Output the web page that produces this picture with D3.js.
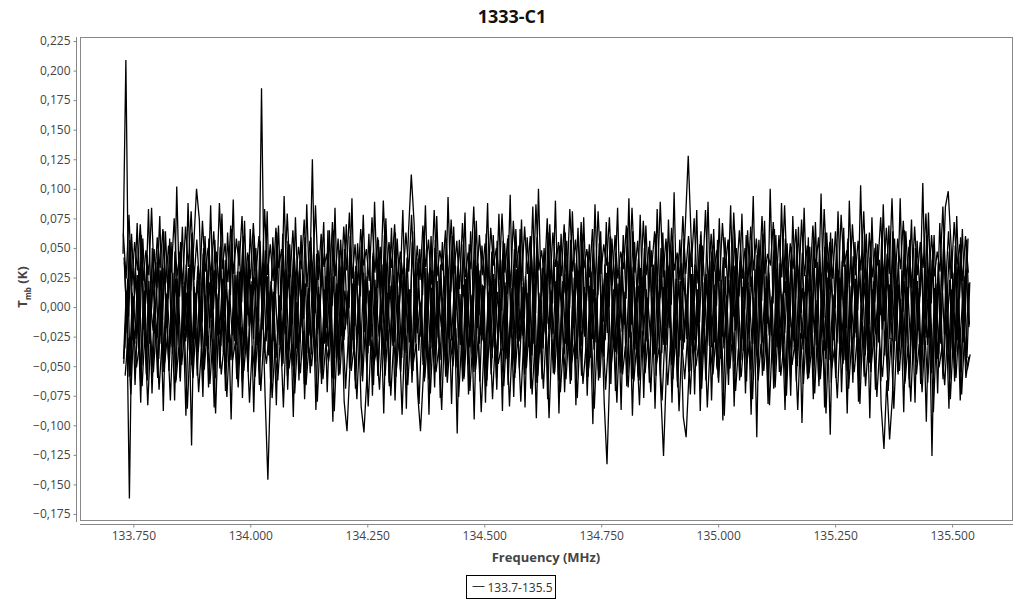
<!DOCTYPE html>
<html>
<head>
<meta charset="utf-8">
<script src="https://cdn.jsdelivr.net/npm/d3@7"></script>
<style>
  body { margin: 0; background: #fff; }
  svg { font-family: "Open Sans", sans-serif; }
</style>
</head>
<body>
<svg id="chart"></svg>
<script>
// spectrum 1333-C1, eight scans, values in mK
// each scan has its own (slightly shifted) channel grid, [first, last] in MHz
var scanRanges = [
  [133.7280, 135.5340],
  [133.7295, 135.5355],
  [133.7310, 135.5370],
  [133.7318, 135.5378],
  [133.7286, 135.5346],
  [133.7325, 135.5385],
  [133.7302, 135.5362],
  [133.7290, 135.5350]
];

var scanA = [
  45, 209, -8, 62, 12, 71, -15, 58, 3, 83, -4, 49, 16, 77, -11, 64, 7, 55, -19, 102,
  9, 68, -6, 88, 14, 52, 100, 74, -13, 60, 5, 86, -2, 47, 18, 79, -9, 63, 10, 91,
  -17, 56, 4, 73, -7, 66, 15, 50, -12, 185, 2, 81, -21, 59, 11, 69, -3, 94, 8, 53,
  -14, 76, 6, 61, -10, 87, 13, 125, -5, 48, 17, 72, -18, 65, 1, 84, -8, 57, 12, 70,
  -1, 92, -16, 54, 9, 78, 3, 62, -12, 89, 16, 51, -6, 75, 7, 67, -20, 58, 14, 82,
  -4, 63, 112, 71, -11, 49, 10, 86, 2, 60, -15, 77, 5, 55, -9, 93, 13, 68, -2, 57,
  8, 80, -17, 64, 4, 73, -7, 52, 15, 88, -13, 61, 6, 79, -3, 54, 11, 95, -19, 66,
  1, 74, -10, 59, 17, 85, -5, 100, 9, 50, -14, 70, 3, 90, -8, 62, 12, 56, -1, 81,
  14, 67, -18, 76, 5, 53, -6, 87, 10, 64, -12, 72, 0, 58, 16, 84, -9, 61, 7, 92,
  -15, 55, 4, 78, -3, 69, 13, 48, -11, 83, 8, 63, -16, 74, 2, 97, -7, 57, 15, 71,
  128, 60, 6, 82, -13, 52, 11, 89, -4, 66, 1, 75, -20, 59, 14, 86, -8, 50, 9, 79,
  -2, 65, 17, 94, -10, 57, 5, 73, -14, 100, 3, 61, -6, 88, 12, 54, -17, 77, 7, 68,
  -5, 84, 10, 51, -12, 72, 2, 96, -9, 63, 15, 58, -1, 81, 6, 67, -18, 90, 11, 55,
  -3, 103, 8, 62, -15, 76, 4, 53, -7, 87, 13, 69, -11, 58, 1, 92, -4, 64, 16, 74,
  -13, 56, 9, 105, -6, 80, 3, 61, -10, 71, 14, 85, 98, 52, -2, 77, 7, 66, -8, 58
];
var scanB = [
  -48, 6, -162, 12, -66, -4, -81, 9, -57, 15, -73, -8, -60, 3, -88, 11, -54, -2, -79, 14,
  -63, -6, -92, 8, -117, 17, -58, -1, -76, 10, -68, -11, -85, 5, -52, 13, -71, -5, -95, 2,
  -61, 16, -77, -9, -55, 7, -89, 0, -66, 12, -74, -146, -59, -3, -83, 10, -50, 18, -70, -7,
  -93, 4, -62, 14, -78, -10, -56, 8, -87, 1, -65, 15, -72, -4, -97, 11, -58, 6, -80, -105,
  -53, 13, -69, -5, -84, -106, -61, 9, -75, 17, -58, -2, -90, 6, -67, 12, -79, -8, -55, 4,
  -86, 15, -64, -3, -73, -105, -59, 10, -91, 1, -68, 14, -77, -6, -54, 8, -82, -1, -107, 11,
  -60, 16, -74, -5, -95, 7, -63, 2, -81, 13, -57, -9, -70, 5, -88, 18, -66, -3, -76, 9,
  -52, 0, -85, 12, -69, -7, -94, 6, -61, 15, -78, -2, -56, 10, -90, 3, -72, -10, -65, 14,
  -83, 4, -58, 17, -75, -4, -99, 8, -62, 1, -80, -133, -54, 11, -71, -6, -87, 13, -67, 5,
  -92, -8, -59, 16, -77, 2, -64, 9, -86, -1, -70, -126, -55, 12, -81, 4, -68, -5, -93, -110,
  -57, 10, -74, 15, -88, -3, -62, 7, -79, 0, -53, 13, -96, -7, -66, 11, -84, 3, -60, 17,
  -73, -2, -91, 8, -110, 14, -58, -6, -82, 5, -69, 12, -55, -9, -87, 1, -75, 16, -63, 4,
  -98, -4, -61, 10, -78, 2, -67, 15, -85, -7, -108, 9, -56, 18, -72, -1, -90, 6, -64, 13,
  -80, -5, -59, 11, -94, 3, -70, 14, -83, -120, -62, -112, -76, 8, -57, -3, -89, 12, -68, 0,
  -81, 16, -65, -6, -97, 9, -126, 4, -73, 12, -58, -8, -86, 15, -63, 2, -79, -4, -60, -42
];
var scanC = [
  38, -22, 55, -9, 27, -35, 61, -14, 44, -28, 19, -6, 52, -31, 33, -18, 58, -40, 24, -11,
  47, -26, 12, -37, 63, -8, 35, -20, 50, -33, 21, -13, 57, -24, 41, -38, 15, -5, 54, -29,
  30, -16, 60, -36, 43, -10, 25, -27, 56, -19, 36, -41, 17, -7, 49, -32, 62, -15, 28, -23,
  53, -34, 39, -12, 20, -39, 59, -21, 45, -8, 31, -30, 65, -17, 26, -43, 48, -25, 14, -10,
  51, -36, 34, -19, 58, -6, 22, -28, 46, -41, 37, -14, 61, -24, 18, -33, 55, -11, 29, -37,
  42, -20, 64, -30, 16, -9, 50, -38, 33, -15, 57, -26, 24, -42, 44, -7, 60, -22, 35, -31,
  19, -13, 53, -40, 40, -18, 27, -29, 62, -10, 47, -35, 13, -21, 56, -44, 32, -8, 49, -27,
  66, -16, 23, -34, 44, -12, 59, -39, 30, -23, 52, -6, 38, -30, 21, -17, 63, -37, 41, -14,
  28, -25, 57, -9, 47, -43, 15, -19, 54, -32, 36, -11, 60, -28, 25, -40, 45, -15, 67, -21,
  34, -36, 18, -7, 50, -24, 39, -41, 62, -13, 27, -31, 55, -18, 43, -35, 20, -10, 58, -27,
  46, -39, 31, -16, 64, -22, 23, -33, 52, -8, 40, -44, 17, -20, 57, -29, 35, -12, 48, -37,
  61, -19, 26, -30, 44, -5, 55, -38, 29, -24, 66, -14, 37, -42, 22, -17, 51, -34, 42, -9,
  16, -27, 59, -40, 33, -13, 48, -21, 63, -35, 24, -10, 53, -31, 39, -45, 58, -18, 30, -26,
  45, -11, 21, -37, 56, -23, 36, -16, 61, -41, 28, -8, 50, -29, 19, -34, 65, -14, 43, -39,
  32, -20, 54, -32, 26, -6, 47, -43, 38, -18, 60, -25, 23, -36, 52, -12, 41, -30, 57, -15
];
var scanD = [
  -35, 24, -58, 9, -27, 33, -49, 14, -62, 6, -20, 38, -44, 17, -55, 11, -31, 29, -64, 7,
  -41, 21, -26, 36, -57, 12, -38, 5, -51, 31, -18, 19, -60, 8, -33, 40, -47, 15, -24, 27,
  -59, 10, -36, 34, -16, 22, -53, 6, -42, 37, -29, 13, -63, 25, -21, 9, -48, 32, -37, 18,
  -56, 4, -30, 28, -65, 16, -40, 35, -23, 11, -52, 26, -34, 7, -61, 20, -45, 39, -19, 14,
  -50, 30, -28, 8, -58, 23, -39, 17, -66, 5, -25, 36, -46, 12, -32, 27, -59, 10, -43, 33,
  -22, 15, -54, 38, -37, 6, -63, 21, -30, 31, -48, 9, -17, 26, -57, 13, -40, 35, -26, 4,
  -61, 29, -34, 11, -50, 37, -24, 18, -67, 8, -43, 24, -29, 40, -55, 5, -38, 16, -60, 32,
  -27, 10, -52, 34, -41, 20, -64, 7, -35, 28, -19, 14, -57, 39, -46, 22, -31, 6, -62, 25,
  -44, 35, -23, 12, -59, 30, -36, 4, -53, 19, -28, 38, -65, 15, -40, 27, -21, 9, -56, 33,
  -33, 17, -62, 26, -47, 8, -25, 36, -58, 13, -39, 31, -18, 6, -61, 24, -42, 37, -30, 11,
  -54, 28, -37, 5, -66, 21, -29, 39, -49, 14, -60, 23, -35, 10, -52, 34, -20, 16, -45, 30,
  -63, 7, -31, 32, -56, 18, -42, 26, -24, 9, -59, 37, -38, 13, -67, 20, -27, 35, -50, 4,
  -36, 27, -60, 15, -22, 38, -53, 8, -44, 30, -64, 11, -30, 25, -48, 36, -57, 6, -26, 19,
  -62, 33, -41, 10, -55, 22, -34, 40, -19, 14, -58, 28, -45, 5, -37, 31, -65, 17, -28, 24,
  -47, 12, -59, 36, -32, 8, -52, 20, -40, 34, -23, 16, -61, 29, -38, 9, -55, 26, -43, 21
];
var scanE = [
  62, 24, 78, 18, 55, 31, 70, 22, 48, 27, 84, 16, 59, 33, 66, 20, 52, 29, 75, 25,
  47, 19, 68, 34, 81, 23, 57, 17, 73, 30, 50, 26, 64, 15, 88, 32, 54, 21, 69, 28,
  58, 35, 77, 18, 46, 24, 71, 30, 60, 16, 83, 27, 53, 22, 67, 33, 49, 19, 79, 25,
  65, 21, 51, 32, 74, 17, 56, 28, 86, 23, 62, 34, 45, 20, 72, 26, 58, 15, 68, 31,
  80, 24, 53, 18, 66, 35, 49, 22, 76, 29, 59, 16, 90, 27, 55, 33, 70, 20, 47, 25,
  63, 30, 78, 17, 52, 23, 69, 34, 57, 19, 82, 26, 48, 31, 65, 21, 74, 28, 56, 15,
  71, 25, 46, 32, 85, 20, 61, 27, 54, 18, 67, 35, 50, 23, 79, 29, 58, 16, 73, 33,
  52, 22, 68, 28, 60, 15, 87, 31, 48, 24, 75, 19, 63, 34, 55, 26, 70, 21, 83, 30,
  57, 17, 72, 33, 49, 25, 66, 20, 81, 28, 53, 35, 76, 18, 61, 24, 47, 32, 69, 22,
  84, 29, 56, 16, 73, 27, 51, 34, 64, 21, 89, 25, 58, 19, 67, 31, 46, 23, 77, 28,
  60, 34, 75, 20, 53, 26, 82, 17, 62, 30, 48, 22, 71, 33, 57, 15, 80, 27, 65, 24,
  50, 19, 68, 31, 58, 23, 77, 28, 45, 35, 72, 16, 61, 25, 86, 21, 54, 32, 66, 18,
  74, 26, 52, 22, 69, 33, 59, 15, 83, 29, 55, 24, 64, 18, 78, 34, 48, 20, 70, 27,
  56, 31, 81, 17, 63, 25, 50, 35, 76, 21, 67, 28, 92, 19, 58, 32, 73, 23, 51, 16,
  68, 27, 55, 33, 79, 20, 61, 26, 47, 30, 85, 18, 64, 24, 72, 35, 53, 22, 60, 29
];
var scanF = [
  -58, -26, -74, -19, -51, -33, -67, -21, -83, -28, -55, -17, -70, -31, -47, -24, -79, -15, -62, -34,
  -49, -22, -86, -29, -60, -18, -72, -35, -53, -20, -65, -27, -90, -16, -57, -32, -76, -23, -45, -30,
  -68, -17, -54, -25, -81, -33, -59, -21, -71, -28, -48, -19, -77, -35, -62, -24, -85, -16, -52, -31,
  -73, -27, -56, -20, -66, -34, -50, -18, -80, -26, -61, -32, -46, -22, -88, -29, -57, -15, -69, -25,
  -54, -33, -78, -21, -63, -17, -84, -28, -49, -35, -70, -23, -58, -19, -75, -30, -52, -26, -91, -18,
  -66, -24, -47, -31, -82, -16, -60, -29, -73, -22, -55, -34, -87, -20, -64, -27, -50, -18, -76, -32,
  -59, -15, -71, -28, -53, -25, -89, -33, -62, -19, -78, -26, -48, -35, -67, -21, -84, -30, -56, -23,
  -80, -29, -51, -17, -74, -32, -58, -24, -69, -20, -94, -27, -55, -16, -72, -34, -61, -22, -47, -31,
  -77, -19, -65, -35, -52, -23, -86, -28, -60, -15, -70, -30, -49, -26, -81, -18, -57, -33, -68, -21,
  -63, -32, -83, -20, -56, -27, -72, -16, -48, -34, -79, -24, -66, -29, -53, -19, -88, -31, -61, -25,
  -74, -22, -50, -30, -69, -18, -85, -33, -57, -26, -64, -15, -92, -28, -52, -21, -71, -35, -59, -24,
  -47, -29, -78, -17, -62, -31, -54, -23, -83, -27, -68, -20, -58, -34, -75, -16, -49, -30, -87, -22,
  -65, -25, -56, -33, -73, -19, -61, -28, -90, -21, -52, -35, -77, -24, -48, -18, -69, -32, -55, -27,
  -82, -16, -67, -30, -50, -23, -76, -34, -59, -20, -71, -26, -86, -29, -54, -17, -63, -33, -80, -21,
  -57, -31, -72, -24, -64, -19, -89, -27, -51, -35, -66, -22, -78, -28, -60, -16, -74, -25, -53, -40
];
var scanG = [
  42, -12, 57, -28, 33, -5, 61, -19, 25, -31, 50, -8, 38, -24, 64, -15, 29, -34, 47, -3,
  55, -21, 36, -10, 62, -27, 23, -16, 45, -33, 58, -7, 31, -22, 51, -13, 40, -30, 66, -18,
  27, -4, 53, -25, 44, -14, 60, -32, 34, -9, 48, -20, 22, -29, 63, -11, 39, -23, 56, -6,
  46, -35, 30, -17, 59, -2, 41, -26, 24, -12, 54, -31, 37, -19, 65, -8, 28, -24, 49, -15,
  60, -28, 35, -6, 52, -21, 26, -33, 43, -10, 57, -17, 32, -29, 48, -4, 63, -22, 38, -13,
  23, -30, 55, -11, 41, -25, 62, -18, 29, -35, 50, -7, 36, -20, 58, -27, 44, -9, 27, -32,
  53, -16, 39, -23, 64, -5, 31, -28, 47, -14, 22, -34, 56, -10, 42, -19, 61, -26, 35, -3,
  49, -24, 26, -12, 58, -31, 45, -8, 33, -21, 63, -15, 40, -27, 52, -6, 28, -33, 57, -18,
  37, -9, 62, -25, 30, -14, 54, -30, 43, -4, 24, -22, 59, -17, 46, -35, 34, -11, 51, -26,
  64, -20, 41, -7, 27, -29, 56, -13, 38, -24, 50, -32, 32, -5, 60, -19, 45, -28, 25, -10,
  52, -33, 36, -16, 61, -22, 28, -9, 47, -30, 57, -12, 42, -25, 23, -18, 65, -6, 39, -27,
  30, -14, 55, -31, 44, -3, 62, -23, 35, -17, 48, -34, 26, -11, 58, -21, 40, -29, 53, -8,
  46, -26, 24, -13, 59, -32, 33, -7, 51, -20, 63, -28, 37, -15, 29, -35, 55, -10, 43, -22,
  27, -5, 60, -24, 42, -18, 54, -30, 31, -12, 45, -27, 64, -9, 38, -23, 22, -16, 57, -33,
  50, -19, 34, -8, 61, -26, 40, -14, 25, -31, 56, -4, 47, -21, 36, -28, 59, -12, 32, -17
];
var scanH = [
  -44, 14, -59, 3, -31, 27, -62, 9, -38, 22, -51, 1, -26, 31, -55, 12, -47, 6, -34, 25,
  -60, 18, -29, 33, -49, 7, -41, 21, -64, 2, -36, 29, -53, 11, -23, 24, -57, 5, -45, 16,
  -32, 30, -63, 8, -48, 19, -27, 35, -54, 4, -39, 26, -61, 13, -43, 0, -30, 23, -58, 10,
  -50, 28, -37, 15, -65, 6, -24, 32, -46, 17, -56, 3, -33, 25, -60, 12, -42, 34, -28, 7,
  -52, 20, -62, 1, -35, 29, -47, 14, -25, 23, -58, 9, -40, 31, -64, 5, -30, 18, -53, 26,
  -39, 11, -56, 27, -22, 4, -49, 33, -61, 16, -34, 22, -45, 8, -59, 30, -28, 13, -51, 2,
  -63, 24, -41, 10, -55, 35, -31, 19, -48, 6, -26, 28, -60, 15, -37, 21, -52, 0, -44, 32,
  -29, 17, -57, 5, -46, 26, -64, 12, -35, 30, -50, 9, -23, 22, -62, 3, -40, 34, -54, 14,
  -47, 31, -33, 7, -59, 18, -27, 25, -53, 11, -42, 29, -65, 4, -38, 20, -56, 13, -30, 27,
  -61, 8, -45, 33, -24, 15, -52, 2, -40, 24, -58, 17, -32, 35, -49, 10, -63, 22, -36, 6,
  -55, 28, -28, 12, -60, 3, -43, 30, -34, 19, -51, 7, -25, 26, -57, 14, -46, 33, -62, 9,
  -38, 21, -53, 5, -41, 27, -30, 16, -64, 1, -48, 32, -36, 11, -22, 23, -59, 8, -44, 29,
  -27, 13, -57, 34, -50, 6, -62, 20, -37, 25, -45, 10, -60, 31, -32, 4, -54, 18, -40, 24,
  -58, 2, -35, 28, -47, 15, -23, 9, -63, 33, -42, 19, -29, 26, -55, 7, -39, 30, -61, 12,
  -33, 22, -49, 8, -26, 31, -56, 16, -44, 3, -61, 27, -38, 14, -52, 35, -30, 11, -46, 20
];

var xTicks = [133.75, 134.0, 134.25, 134.5, 134.75, 135.0, 135.25, 135.5];
var yTicks = [-0.175, -0.15, -0.125, -0.1, -0.075, -0.05, -0.025, 0, 0.025, 0.05,
              0.075, 0.1, 0.125, 0.15, 0.175, 0.2, 0.225];
var seriesName = "133.7-135.5";
var title = "1333-C1";

var screen = {width: 1024, height: 600};
var box = {left: 80, top: 37, right: 1012, bottom: 520};

var svg = d3.select("#chart")
  .attr("width", screen.width)
  .attr("height", screen.height);

var xScale = d3.scaleLinear()
  .domain([133.636, 135.628])
  .range([box.left, box.right]);
var yScale = d3.scaleLinear()
  .domain([-0.1801, 0.2284])
  .range([box.bottom, box.top]);

// title
svg.append("text")
  .attr("x", 512).attr("y", 23)
  .attr("text-anchor", "middle")
  .style("font-size", "18px").style("font-weight", "bold")
  .style("fill", "#111")
  .text(title);

// plot frame
svg.append("rect")
  .attr("x", box.left + 0.5).attr("y", box.top + 0.5)
  .attr("width", box.right - box.left).attr("height", box.bottom - box.top)
  .attr("fill", "#fff").attr("stroke", "#888");

svg.append("clipPath").attr("id", "clip")
  .append("rect")
  .attr("x", box.left + 1).attr("y", box.top + 1)
  .attr("width", box.right - box.left - 1).attr("height", box.bottom - box.top - 1);

// y axis, a little left of the frame
var yAxis = svg.append("g")
  .attr("transform", "translate(76.5,0)")
  .call(d3.axisLeft(yScale)
    .tickValues(yTicks)
    .tickSize(3)
    .tickFormat(function(d) { return d3.format(".3f")(d).replace(".", ","); }));

// x axis below the frame
var xAxis = svg.append("g")
  .attr("transform", "translate(0,524.5)")
  .call(d3.axisBottom(xScale)
    .tickValues(xTicks)
    .tickSize(3)
    .tickFormat(d3.format(".3f")));

[yAxis, xAxis].forEach(function(ax) {
  ax.select(".domain").attr("stroke", "#888");
  ax.selectAll(".tick line").attr("stroke", "#888");
  ax.selectAll(".tick text")
    .style("font-family", "'Open Sans', sans-serif")
    .style("font-size", "12px")
    .style("fill", "#444");
});
yAxis.selectAll(".tick text").attr("x", -6);
xAxis.selectAll(".tick text").attr("y", 7);
yAxis.select(".domain").attr("d", "M0," + box.top + "V" + (box.bottom + 2));
xAxis.select(".domain").attr("d", "M" + box.left + ",0H" + (box.right + 1));

// axis titles
svg.append("text")
  .attr("x", 546).attr("y", 562)
  .attr("text-anchor", "middle")
  .style("font-size", "13px").style("font-weight", "bold")
  .style("fill", "#444")
  .text("Frequency (MHz)");

var yLabel = svg.append("text")
  .attr("transform", "translate(27,287) rotate(-90)")
  .attr("text-anchor", "middle")
  .style("font-size", "13px").style("font-weight", "bold")
  .style("fill", "#444");
yLabel.append("tspan").text("T");
yLabel.append("tspan").attr("dy", 4).style("font-size", "8px").text("mb");
yLabel.append("tspan").attr("dy", -4).text(" (K)");

// spectrum lines
var scans = [scanA, scanB, scanC, scanD, scanE, scanF, scanG, scanH];
var plot = svg.append("g").attr("clip-path", "url(#clip)");

scans.forEach(function(scan, k) {
  var chan = d3.scaleLinear()
    .domain([0, scan.length - 1])
    .range(scanRanges[k]);
  var line = d3.line()
    .x(function(d, i) { return xScale(chan(i)); })
    .y(function(d) { return yScale(d / 1000); });
  plot.append("path")
    .datum(scan)
    .attr("d", line)
    .attr("fill", "none")
    .attr("stroke", "#000")
    .attr("stroke-width", 1.3)
    .attr("stroke-linejoin", "miter")
    .attr("stroke-miterlimit", 2);
});

// legend
var legend = svg.append("g").attr("transform", "translate(466.5,575.5)");
legend.append("rect")
  .attr("width", 89).attr("height", 23)
  .attr("fill", "#fff").attr("stroke", "#000");
legend.append("line")
  .attr("x1", 6).attr("x2", 18).attr("y1", 11).attr("y2", 11)
  .attr("stroke", "#333");
legend.append("text")
  .attr("x", 21).attr("y", 16)
  .style("font-size", "12px").style("fill", "#333")
  .text(seriesName);
</script>
</body>
</html>
